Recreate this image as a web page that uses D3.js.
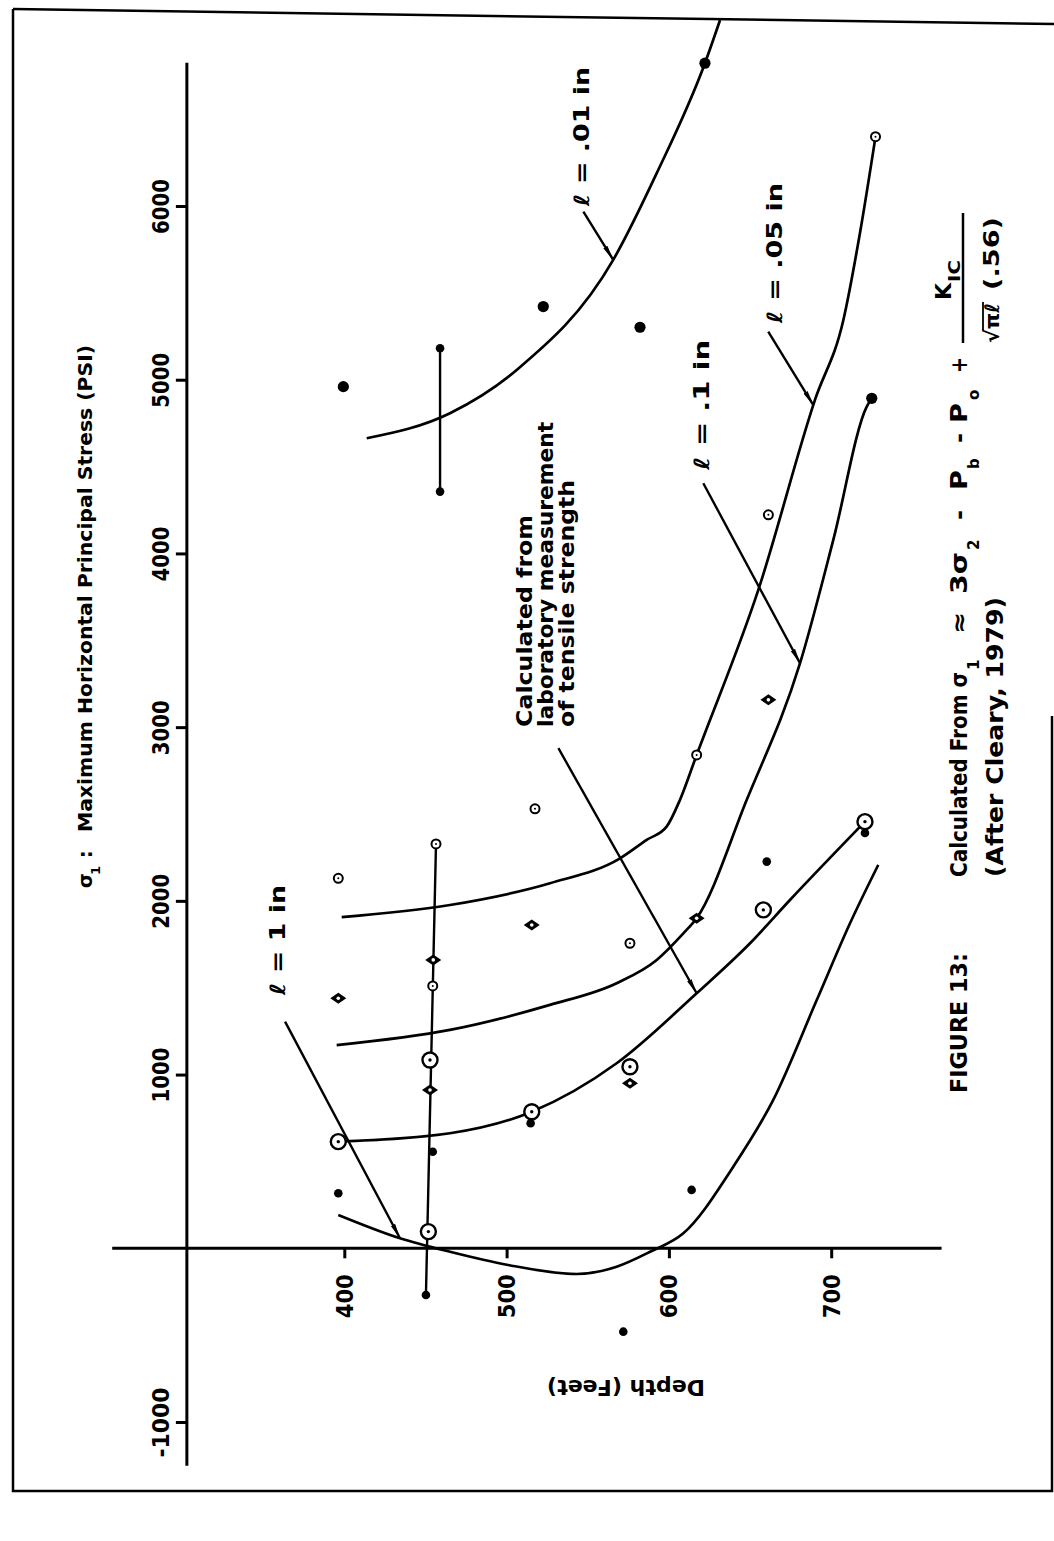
<!DOCTYPE html>
<html>
<head>
<meta charset="utf-8">
<script src="https://cdn.jsdelivr.net/npm/d3@7"></script>
<style>
    html, body { margin: 0; padding: 0; background: #fff; }
    svg { display: block; }
    text { font-family: "DejaVu Sans", sans-serif; font-weight: bold; fill: #000; }
</style>
</head>
<body>
<svg id="chart" width="1054" height="1541"></svg>
<script>
// FIGURE 13 — max horizontal principal stress vs depth (scanned page, drawn rotated)

// ── Data ────────────────────────────────────────────────────────────────────
const depthTicks  = [400, 500, 600, 700];
const stressTicks = [-1000, 1000, 2000, 3000, 4000, 5000, 6000];

// fitted curves as [depth (ft), stress (psi)]
const curveL01 = [[413.8, 4663], [465.1, 4807], [506.2, 5056], [565.7, 5690],
                  [592.5, 6189], [622.2, 6822], [631.5, 7070]];
const curveL05 = [[398.4, 1906], [465.1, 1976], [526.7, 2101], [569.9, 2245], [586.3, 2351],
                  [598.6, 2427], [606.8, 2581], [617.1, 2840], [655.1, 3790], [690.0, 4884],
                  [707.5, 5344], [717.7, 5843], [727.3, 6399]];
const curveL1  = [[395.3, 1170], [465.1, 1257], [526.7, 1401], [567.8, 1526], [592.5, 1660],
                  [608.9, 1813], [617.1, 1900], [647.9, 2580], [680.8, 3368], [701.3, 4078],
                  [721.9, 4845], [725.0, 4893]];
const curveLab = [[396.3, 614], [465.1, 662], [515.5, 786], [567.8, 1065], [617.1, 1468],
                  [650.0, 1756], [674.6, 2005], [720.8, 2456]];
const curveL1in = [[396.3, 192], [434.3, 58], [465.1, -20], [501.0, -96], [543.2, -148],
                   [567.8, -106], [588.4, -20], [608.9, 86], [639.7, 470], [664.3, 854],
                   [691.1, 1429], [711.6, 1871], [729.0, 2207]];

// measured values
const pointDepth  = [399.4, 396.3, 396.3, 396.3, 396.3,
                     459.0, 459.0, 456.5, 454.8, 454.5, 452.8, 452.8, 454.5, 451.8, 450.3,
                     522.6, 517.5, 515.5, 514.8, 515.5,
                     582.2, 576.0, 576.0, 576.0, 571.9,
                     622.2, 617.1, 617.1, 614.0,
                     661.3, 661.3, 660.3, 658.2,
                     727.3, 725.0, 720.8, 720.8];
const pointStress = [4960, 2130, 1439, 614, 317,
                     5181, 4356, 2328, 1660, 1510, 1084, 911, 556, 96, -269,
                     5421, 2530, 1861, 720, 786,
                     5302, 1756, 950, 1045, -480,
                     6822, 2840, 1900, 336,
                     4222, 3157, 2226, 1948,
                     6399, 4893, 2391, 2456];
const pointKind   = ["bigdot", "ring", "diamond", "bullseye", "dot",
                     "dot", "dot", "ring", "diamond", "ring", "bullseye", "diamond", "dot", "bullseye", "dot",
                     "bigdot", "ring", "diamond", "dot", "bullseye",
                     "bigdot", "ring", "diamond", "bullseye", "dot",
                     "bigdot", "ring", "diamond", "dot",
                     "ring", "diamond", "dot", "bullseye",
                     "ring", "bigdot", "dot", "bullseye"];

// connecting bars between measurements: [depth, stress] pairs
const barLines = [[[459.0, 4356], [459.0, 5181]],
                  [[456.5, 2328], [450.3, -269]]];

// ── Scales ─────────────────────────────────────────────────────────────────
const svg = d3.select("#chart");
svg.append("rect").attr("width", 1054).attr("height", 1541).attr("fill", "#fff");

const x = d3.scaleLinear().domain([400, 700]).range([344.3, 831.2]);
const y = d3.scaleLinear().domain([-1000, 6000]).range([1422, 206]);
const axisDepth = 303;

// ── Page frame ─────────────────────────────────────────────────────────────
const frame = svg.append("g").attr("fill", "none").attr("stroke", "#000").attr("stroke-width", 2.5);
frame.append("path").attr("d", "M13,9 L1054,24");
frame.append("path").attr("d", "M13,9 L13,1491 L1052,1491 L1052,716");

// ── Axes ───────────────────────────────────────────────────────────────────
svg.append("line")
    .attr("x1", x(axisDepth)).attr("x2", x(axisDepth))
    .attr("y1", y(6824)).attr("y2", y(-1252))
    .attr("stroke", "#000").attr("stroke-width", 3);
svg.append("line")
    .attr("x1", x(257)).attr("x2", x(768))
    .attr("y1", y(0)).attr("y2", y(0))
    .attr("stroke", "#000").attr("stroke-width", 3);

const gy = svg.append("g")
    .attr("transform", `translate(${x(axisDepth)},0)`)
    .call(d3.axisLeft(y).tickValues(stressTicks).tickSize(11).tickFormat(d => String(d)));
gy.select(".domain").remove();
gy.selectAll(".tick line").attr("stroke", "#000").attr("stroke-width", 3);
gy.selectAll(".tick text")
    .attr("x", null).attr("dy", null)
    .attr("transform", "translate(-26,0) rotate(-90)")
    .attr("text-anchor", "middle")
    .attr("dominant-baseline", "central")
    .attr("lengthAdjust", "spacingAndGlyphs")
    .attr("textLength", d => d < 0 ? 70 : 55)
    .style("font-size", "23px");

const gx = svg.append("g")
    .attr("transform", `translate(0,${y(0)})`)
    .call(d3.axisBottom(x).tickValues(depthTicks).tickSize(10).tickFormat(d => String(d)));
gx.select(".domain").remove();
gx.selectAll(".tick line").attr("stroke", "#000").attr("stroke-width", 3);
gx.selectAll(".tick text")
    .attr("y", null).attr("dy", null)
    .attr("transform", "translate(0,26) rotate(-90)")
    .attr("text-anchor", "end")
    .attr("dominant-baseline", "central")
    .attr("lengthAdjust", "spacingAndGlyphs")
    .attr("textLength", 44)
    .style("font-size", "23px");

// y-axis title (rotated, with subscript)
const yt = svg.append("g").attr("transform", "translate(85,888) rotate(-90)");
yt.append("text").attr("x", 0).attr("y", 7).style("font-size", "19px").text("σ");
yt.append("text").attr("x", 13).attr("y", 15).style("font-size", "13px").text("1");
yt.append("text").attr("x", 30).attr("y", 7).style("font-size", "19px").text(":");
yt.append("text").attr("x", 56).attr("y", 7).style("font-size", "19px")
    .attr("textLength", 487).attr("lengthAdjust", "spacingAndGlyphs")
    .text("Maximum Horizontal Principal Stress (PSI)");

// x-axis title, upside down as on the page
svg.append("text")
    .attr("transform", "translate(626,1387) rotate(180)")
    .attr("text-anchor", "middle").attr("dominant-baseline", "central")
    .attr("textLength", 158).attr("lengthAdjust", "spacingAndGlyphs")
    .style("font-size", "21px")
    .text("Depth (Feet)");

// ── Curves ─────────────────────────────────────────────────────────────────
const line = d3.line().x(d => x(d[0])).y(d => y(d[1])).curve(d3.curveMonotoneX);
svg.append("g").attr("fill", "none").attr("stroke", "#000").attr("stroke-width", 2.7)
    .selectAll("path")
    .data([curveL01, curveL05, curveL1, curveLab, curveL1in])
    .join("path")
    .attr("d", line);

svg.append("g").attr("stroke", "#000").attr("stroke-width", 2.4)
    .selectAll("line").data(barLines).join("line")
    .attr("x1", d => x(d[0][0])).attr("y1", d => y(d[0][1]))
    .attr("x2", d => x(d[1][0])).attr("y2", d => y(d[1][1]));

// ── Annotations: arrows and labels ─────────────────────────────────────────
const defs = svg.append("defs");
defs.append("marker")
    .attr("id", "dart").attr("viewBox", "0 0 16 6")
    .attr("refX", 15).attr("refY", 3)
    .attr("markerWidth", 16).attr("markerHeight", 6)
    .attr("markerUnits", "userSpaceOnUse").attr("orient", "auto")
    .append("path").attr("d", "M0,0.6 L16,3 L0,5.4 Z").attr("fill", "#000");

const arrows = [
    [[547.3, 5968], [565.7, 5690]],
    [[661.2, 5277], [689.0, 4854]],
    [[621.2, 4404], [680.8, 3368]],
    [[531.9, 2879], [617.1, 1468]],
    [[363.5, 1305], [434.3, 58]]
];
svg.append("g").attr("stroke", "#000").attr("stroke-width", 2.4)
    .selectAll("line").data(arrows).join("line")
    .attr("x1", d => x(d[0][0])).attr("y1", d => y(d[0][1]))
    .attr("x2", d => x(d[1][0])).attr("y2", d => y(d[1][1]))
    .attr("marker-end", "url(#dart)");

const labels = [
    {t: "ℓ = .01 in", d: 546.5, s: 6000, len: 139},
    {t: "ℓ = .05 in", d: 665.3, s: 5327, len: 140},
    {t: "ℓ = .1 in",  d: 620.4, s: 4481, len: 130},
    {t: "ℓ = 1 in",   d: 359.2, s: 1458, len: 110},
    {t: "Calculated from",        d: 511.3, s: 3001, len: 212},
    {t: "laboratory measurement", d: 524.2, s: 3001, len: 305},
    {t: "of tensile strength",    d: 537.2, s: 3001, len: 247}
];
svg.append("g").selectAll("text").data(labels).join("text")
    .attr("transform", d => `translate(${x(d.d)},${y(d.s)}) rotate(-90)`)
    .attr("dominant-baseline", "central")
    .attr("textLength", d => d.len).attr("lengthAdjust", "spacingAndGlyphs")
    .style("font-size", "21px")
    .text(d => d.t);

// ── Measurement symbols ────────────────────────────────────────────────────
const pts = svg.append("g").selectAll("g")
    .data(pointDepth.map((d, i) => ({d, s: pointStress[i], kind: pointKind[i]})))
    .join("g")
    .attr("transform", p => `translate(${x(p.d)},${y(p.s)})`);

pts.filter(p => p.kind === "dot").append("circle").attr("r", 4.3).attr("fill", "#000");
pts.filter(p => p.kind === "bigdot").append("circle").attr("r", 5.6).attr("fill", "#000");
pts.filter(p => p.kind === "ring").append("circle")
    .attr("r", 4.5).attr("fill", "#fff").attr("stroke", "#000").attr("stroke-width", 2);
pts.filter(p => p.kind === "ring").append("circle").attr("r", 1).attr("fill", "#000");
pts.filter(p => p.kind === "bullseye").append("circle")
    .attr("r", 7.5).attr("fill", "#fff").attr("stroke", "#000").attr("stroke-width", 2.4);
pts.filter(p => p.kind === "bullseye").append("circle").attr("r", 1.7).attr("fill", "#000");
pts.filter(p => p.kind === "diamond").append("path")
    .attr("d", "M-8,0 L0,-5.5 L8,0 L0,5.5 Z").attr("fill", "#000");
pts.filter(p => p.kind === "diamond").append("circle").attr("r", 1.8).attr("fill", "#fff");

// ── Caption block (rotated like the rest of the page) ──────────────────────
const cap = svg.append("g").attr("transform", "translate(957,877) rotate(-90)");
const capText = (t, lx, ly, size, len) => {
    const el = cap.append("text").attr("x", lx).attr("y", ly).style("font-size", size + "px").text(t);
    if (len) el.attr("textLength", len).attr("lengthAdjust", "spacingAndGlyphs");
    return el;
};
capText("Calculated From σ", 0, 10, 23, 205);
capText("1", 207, 22, 15);
capText("≈", 243, 10, 23, 22);
capText("3σ", 283, 10, 23, 42);
capText("2", 327, 22, 15);
capText("-", 357, 10, 23, 10);
capText("P", 387, 10, 23, 20);
capText("b", 408, 22, 15);
capText("-", 434, 10, 23, 10);
capText("P", 454, 10, 23, 20);
capText("o", 477, 22, 15);
capText("+", 504, 10, 23, 16);
capText("K", 577, -6, 22, 17);
capText("IC", 595, 3, 15, 22);
cap.append("line").attr("x1", 534).attr("x2", 664).attr("y1", 6).attr("y2", 6)
    .attr("stroke", "#000").attr("stroke-width", 2.5);
capText("√πℓ", 534, 42, 20, 40);
cap.append("line").attr("x1", 547).attr("x2", 575).attr("y1", 26).attr("y2", 26)
    .attr("stroke", "#000").attr("stroke-width", 1.8);
capText("(.56)", 587, 42, 22, 73);
capText("(After Cleary, 1979)", 0, 46, 23, 280);
capText("FIGURE 13:", -216, 10, 23, 140);
</script>
</body>
</html>
